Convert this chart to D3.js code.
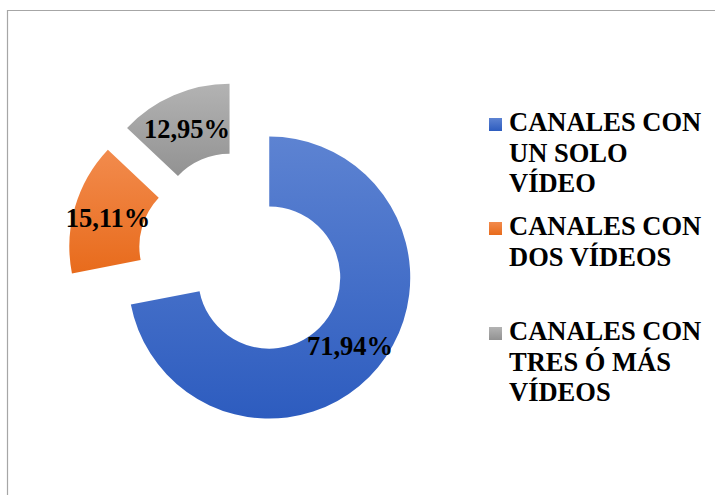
<!DOCTYPE html>
<html><head><meta charset="utf-8">
<script src="https://cdn.jsdelivr.net/npm/d3@7"></script>
<style>html,body{margin:0;padding:0;background:#fff;}svg{display:block;}</style>
</head><body>
<script>
const categories = ["CANALES CON UN SOLO VÍDEO", "CANALES CON DOS VÍDEOS", "CANALES CON TRES Ó MÁS VÍDEOS"];
const legendLines = [["CANALES CON", "UN SOLO", "VÍDEO"], ["CANALES CON", "DOS VÍDEOS"], ["CANALES CON", "TRES Ó MÁS", "VÍDEOS"]];
const values = [71.94, 15.11, 12.95];
const labels = ["71,94%", "15,11%", "12,95%"];
const colorsTop = ["#5d83d2", "#f28b4d", "#b3b3b3"];
const colorsBottom = ["#2d5cbf", "#e86b1c", "#929292"];

const W = 715, H = 495;
const FONT = "Liberation Serif";
const svg = d3.select("body").append("svg").attr("width", W).attr("height", H);
svg.append("rect").attr("width", W).attr("height", H).attr("fill", "#fff");
svg.append("path").attr("d", `M7.5,${H+2}V10.5H${W+2}`).attr("fill", "none").attr("stroke", "#a6a6a6").attr("stroke-width", 1.2);

const defs = svg.append("defs");
categories.forEach((c, i) => {
  const g = defs.append("linearGradient").attr("id", "g" + i).attr("x1", 0).attr("y1", 0).attr("x2", 0).attr("y2", 1);
  g.append("stop").attr("offset", "0%").attr("stop-color", colorsTop[i]);
  g.append("stop").attr("offset", "100%").attr("stop-color", colorsBottom[i]);
});

const cx = 243, cy = 256, R = 141, r = 71, explode = 34;
const pie = d3.pie().sort(null).value(d => d);
const arcs = pie(values);
const arc = d3.arc().innerRadius(r).outerRadius(R);
const gChart = svg.append("g").attr("transform", `translate(${cx},${cy})`);
const labelOffsets = [[107, 99], [-135, -29], [-56, -118]];
arcs.forEach((a, i) => {
  const mid = (a.startAngle + a.endAngle) / 2;
  const dx = explode * Math.sin(mid), dy = -explode * Math.cos(mid);
  const g = gChart.append("g").attr("transform", `translate(${dx},${dy})`);
  g.append("path").attr("d", arc(a)).attr("fill", `url(#g${i})`);
});
arcs.forEach((a, i) => {
  gChart.append("text")
    .attr("x", labelOffsets[i][0]).attr("y", labelOffsets[i][1])
    .attr("text-anchor", "middle")
    .style("font-family", FONT)
    .style("font-weight", "bold").style("font-size", "26.5px").attr("fill", "#000")
    .text(labels[i]);
});

const legendTop = [131, 235, 340];
const leg = svg.append("g");
legendLines.forEach((lines, i) => {
  leg.append("rect").attr("x", 489).attr("y", legendTop[i] - 13).attr("width", 13).attr("height", 13).attr("fill", `url(#g${i})`);
  const t = leg.append("text").attr("x", 509).attr("y", legendTop[i])
    .style("font-family", FONT)
    .style("font-weight", "bold").style("font-size", "26.5px").attr("fill", "#000");
  lines.forEach((l, j) => t.append("tspan").attr("x", 509).attr("y", legendTop[i] + j * 30.5).text(l));
});
</script>
</body></html>
